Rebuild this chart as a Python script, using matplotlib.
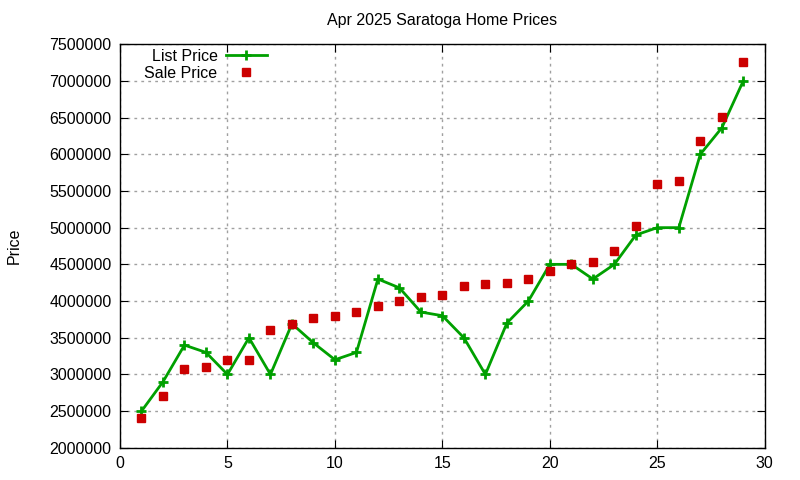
import matplotlib
matplotlib.use("Agg")
import matplotlib.pyplot as plt
from matplotlib.ticker import MultipleLocator

plt.rcParams['font.family'] = ['Liberation Sans', 'DejaVu Sans']

# data
rank = list(range(1, 30))
list_price = [2500000, 2900000, 3400000, 3300000, 3000000, 3500000, 3000000,
              3690000, 3430000, 3200000, 3300000, 4300000, 4180000, 3850000,
              3800000, 3500000, 3000000, 3700000, 4000000, 4500000, 4500000,
              4300000, 4500000, 4900000, 5000000, 5000000, 6000000, 6360000,
              7000000]
sale_price = [2400000, 2700000, 3080000, 3100000, 3200000, 3200000, 3610000,
              3690000, 3770000, 3800000, 3850000, 3930000, 4000000, 4050000,
              4080000, 4200000, 4230000, 4250000, 4300000, 4410000, 4500000,
              4530000, 4680000, 5020000, 5600000, 5640000, 6180000, 6510000,
              7260000]

fig = plt.figure(figsize=(8, 4.8), dpi=100)
ax = fig.add_axes([0.15, 0.067, 0.806, 0.841])

ax.plot(rank, list_price, color='#00a000', linewidth=2, marker='+',
        markersize=7.5, markeredgewidth=2, label="List Price")
ax.plot(rank, sale_price, linestyle='none', marker='s', color='#cc0000',
        markersize=6, label="Sale Price")

ax.set_xlim(0, 30)
ax.set_ylim(2000000, 7500000)
ax.xaxis.set_major_locator(MultipleLocator(5))
ax.yaxis.set_major_locator(MultipleLocator(500000))
ax.ticklabel_format(style='plain', axis='y', useOffset=False)

ax.grid(True, color='#a0a0a0', linestyle=(0, (2, 3)), linewidth=1)
ax.tick_params(direction='in', top=True, right=True, length=6,
               labelsize=11.5, colors='black', pad=6)
for s in ax.spines.values():
    s.set_linewidth(1)

ax.set_title("Apr 2025 Saratoga Home Prices", fontsize=11.5, pad=14)
ax.set_ylabel("Price", fontsize=11.5, labelpad=20)

ax.legend(loc='upper left', markerfirst=False, frameon=False, fontsize=11.5,
          handlelength=2.6, handletextpad=0.5, borderaxespad=0.0,
          labelspacing=0.12, bbox_to_anchor=(0.028, 1.004))

fig.savefig("out.png", dpi=100)
plt.close(fig)
